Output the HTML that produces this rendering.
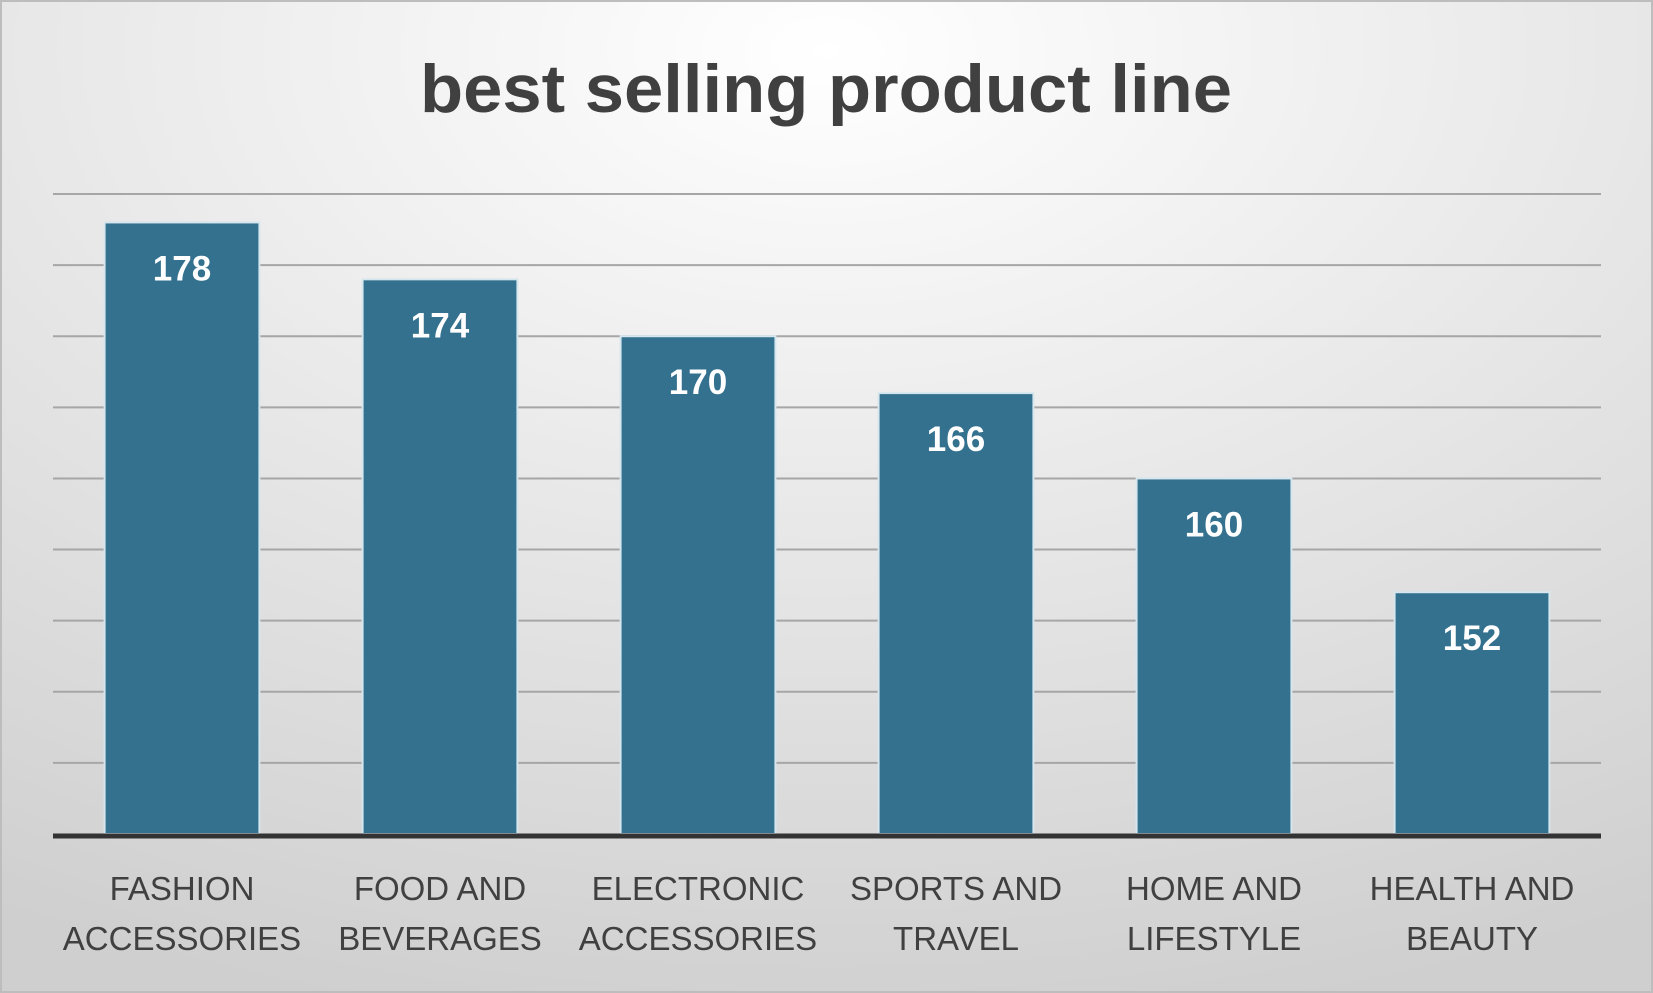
<!DOCTYPE html>
<html><head><meta charset="utf-8"><style>
html,body{margin:0;padding:0;width:1653px;height:993px;overflow:hidden}
svg{display:block}
</style></head><body>
<svg id="chart" width="1653" height="993" viewBox="0 0 1653 993" xmlns="http://www.w3.org/2000/svg">
<defs>
<radialGradient id="bg" cx="0.5" cy="0.05" r="1.0">
<stop offset="0" stop-color="#ffffff"/>
<stop offset="1" stop-color="#cfcfcf"/>
</radialGradient>
</defs>
<rect x="1" y="1" width="1651" height="991" fill="url(#bg)" stroke="#bdbdbd" stroke-width="2"/>
<text x="826" y="112" text-anchor="middle" font-family="Liberation Sans, sans-serif" font-weight="bold" font-size="68" fill="#404040" textLength="812" lengthAdjust="spacingAndGlyphs">best selling product line</text>
<g id="grid"></g>
<g id="bars"></g>
<g id="labels"></g>
</svg>
<script>
const categories = [["FASHION","ACCESSORIES"],["FOOD AND","BEVERAGES"],["ELECTRONIC","ACCESSORIES"],["SPORTS AND","TRAVEL"],["HOME AND","LIFESTYLE"],["HEALTH AND","BEAUTY"]];
const values = [178,174,170,166,160,152];
const yTicks = [135,140,145,150,155,160,165,170,175,180];
const yMin = 135, yMax = 180;
const L = 53, R = 1601, T = 194, B = 834;
const NS = "http://www.w3.org/2000/svg";
const y = v => B - (v - yMin) / (yMax - yMin) * (B - T);
const band = (R - L) / categories.length;
const xc = i => L + band * (i + 0.5);
const bw = band * 0.6;
const grid = document.getElementById('grid');
const bars = document.getElementById('bars');
const labels = document.getElementById('labels');
function mk(tag, attrs, parent){const e=document.createElementNS(NS,tag);for(const k in attrs)e.setAttribute(k,attrs[k]);parent.appendChild(e);return e;}
yTicks.forEach(t => {
  if (t === yMin) return;
  const l = mk('line',{x1:L,x2:R,y1:y(t),y2:y(t),stroke:'#a6a6a6','stroke-width':2},grid);
  
  
});
values.forEach((v,i) => {
  const r = mk('rect',{x:xc(i)-bw/2,y:y(v),width:bw,height:B-y(v),fill:'#33718f',stroke:'#d6e6ee','stroke-width':2},bars);
  
  
  const t = mk('text',{x:xc(i),y:y(v)+58,'text-anchor':'middle','font-family':'Liberation Sans, sans-serif','font-weight':'bold','font-size':35,fill:'#ffffff'},labels);
  t.textContent = v;
  
  
  categories[i].forEach((line,j) => {
    const c = mk('text',{x:xc(i),y:900+j*50,'text-anchor':'middle','font-family':'Liberation Sans, sans-serif','font-size':33,fill:'#404040'},labels);
    c.textContent = line;
    
    
  });
});
const ax = mk('line',{x1:L,x2:R,y1:B+2,y2:B+2,stroke:'#333333','stroke-width':5},grid.parentNode);


</script>
</body></html>
